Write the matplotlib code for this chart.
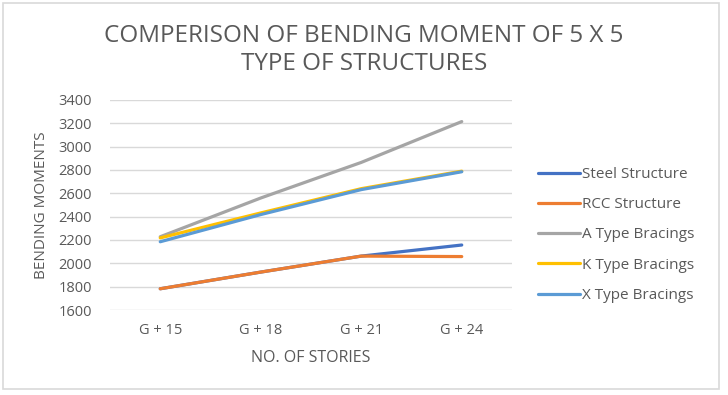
import matplotlib.pyplot as plt
from matplotlib.patches import Rectangle

plt.rcParams['font.family'] = ['Open Sans', 'DejaVu Sans']

categories = ["G + 15", "G + 18", "G + 21", "G + 24"]
steel = [1782, 1925, 2062, 2157]
rcc = [1782, 1925, 2062, 2058]
a_type = [2228, 2560, 2865, 3215]
k_type = [2218, 2432, 2640, 2790]
x_type = [2185, 2418, 2632, 2785]

series = [
    ("Steel Structure", steel, "#4472C4"),
    ("RCC Structure", rcc, "#ED7D31"),
    ("A Type Bracings", a_type, "#A5A5A5"),
    ("K Type Bracings", k_type, "#FFC000"),
    ("X Type Bracings", x_type, "#5B9BD5"),
]

W, H = 728, 395
fig = plt.figure(figsize=(W / 100, H / 100), dpi=100)
fig.patches.append(Rectangle((3 / W, 6 / H), 716 / W, 386 / H, transform=fig.transFigure,
                             fill=False, edgecolor="#D9D9D9", linewidth=1.2))

ax = fig.add_axes([110 / W, 1 - 310 / H, 402 / W, 210 / H])
xs = range(len(categories))
for name, vals, col in series:
    ax.plot(xs, vals, color=col, linewidth=2.3, label=name, solid_capstyle="round")

ax.set_xlim(-0.5, 3.5)
ax.set_ylim(1600, 3400)
ax.set_yticks(range(1600, 3401, 200))
ax.set_xticks(list(xs))
ax.set_xticklabels(categories)
ax.yaxis.grid(True, color="#D9D9D9", linewidth=1)
ax.set_axisbelow(True)
for s in ax.spines.values():
    s.set_visible(False)
ax.tick_params(length=0, labelsize=10.5, colors="#595959")
ax.tick_params(axis="y", pad=13)
ax.tick_params(axis="x", pad=9)
ax.set_xlabel("NO. OF STORIES", fontsize=11.5, color="#595959", labelpad=9)
ax.set_ylabel("BENDING MOMENTS", fontsize=11, color="#595959", labelpad=7)

fig.text(0.5, 1 - 50 / H, "COMPERISON OF BENDING MOMENT OF 5 X 5\nTYPE OF STRUCTURES",
         ha="center", va="center", fontsize=17.5, color="#595959", linespacing=1.25)

ax.legend(loc="center left", bbox_to_anchor=(538 / W, 1 - 235 / H), bbox_transform=fig.transFigure,
          frameon=False, fontsize=11, labelcolor="#595959", handlelength=2.75,
          handletextpad=0.15, labelspacing=1.0, borderpad=0, borderaxespad=0)

fig.savefig("out.png", dpi=100)
